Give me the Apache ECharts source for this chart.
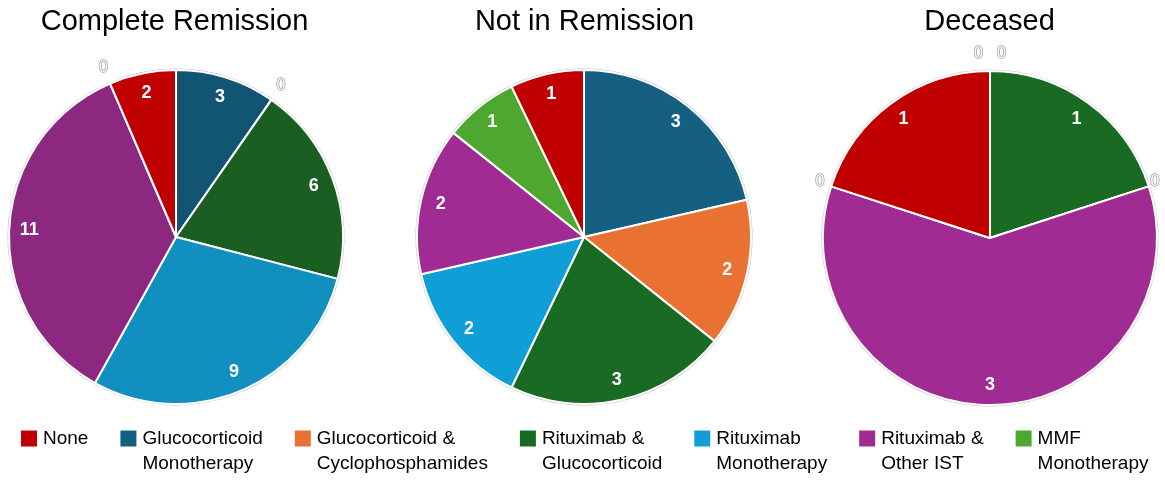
<!DOCTYPE html>
<html>
<head>
<meta charset="utf-8">
<script src="https://cdn.jsdelivr.net/npm/echarts@6/dist/echarts.min.js"></script>
<style>
  html, body { margin: 0; padding: 0; background: #fff; }
  #chart { width: 1165px; height: 481px; }
</style>
</head>
<body>
<div id="chart"></div>
<script>
// 分类（图例顺序）
const categories = [
  'None',
  'Glucocorticoid Monotherapy',
  'Glucocorticoid & Cyclophosphamides',
  'Rituximab & Glucocorticoid',
  'Rituximab Monotherapy',
  'Rituximab & Other IST',
  'MMF Monotherapy'
]
const titles = ['Complete Remission', 'Not in Remission', 'Deceased']
// 各组数值，顺序同 categories
const completeRemission = [2, 3, 0, 6, 9, 11, 0]
const notInRemission = [1, 3, 2, 3, 2, 2, 1]
const deceased = [1, 0, 0, 1, 0, 3, 0]
// 扇区顺时针顺序：None 放最后
const sliceOrder = [1, 2, 3, 4, 5, 6, 0]

const colors = ['#C00000', '#156082', '#E97132', '#196B24', '#0F9ED5', '#A02B93', '#4EA72E']
const colorsDark = ['#C00000', '#125474', '#D0652C', '#1A5E22', '#1190C0', '#8C2880', '#469528']

const FONT = "'Liberation Sans', Arial, sans-serif"
const R = 167
const OUT = 17 // 0 值标签离圆边的距离
const centers = [[176, 237], [584, 237], [990, 238]]
const titleX = [174.5, 584.5, 989.5]

// 数据项，0 值标签放外面：重叠的左右错开，超出圆宽度的往里收
const buildData = (values, palette) => {
  const total = values.reduce((a, b) => a + b, 0)
  let cum = 0
  const zeroGroups = {}
  sliceOrder.forEach((i) => {
    if (values[i] === 0) {
      zeroGroups[cum] = (zeroGroups[cum] || 0) + 1
    }
    cum += values[i]
  })
  cum = 0
  const seen = {}
  return sliceOrder.map((i) => {
    const v = values[i]
    const item = {
      name: categories[i],
      value: v,
      itemStyle: { color: palette[i] },
      label: { show: v === 0 }
    }
    if (v === 0) {
      const n = zeroGroups[cum]
      const k = seen[cum] || 0
      seen[cum] = k + 1
      const ang = (cum / total) * Math.PI * 2
      const nx = (R + OUT) * Math.sin(ang)
      const clamped = Math.max(-R - 3, Math.min(R - 2, nx))
      item.label.offset = [(k - (n - 1) / 2) * 23 + (clamped - nx), 0]
    }
    cum += v
    return item
  })
}

const groups = [
  { values: completeRemission, palette: colorsDark },
  { values: notInRemission, palette: colors },
  { values: deceased, palette: colors }
]

const mainSeries = groups.map((g, idx) => ({
  type: 'pie',
  name: titles[idx],
  center: centers[idx],
  radius: R,
  startAngle: 90,
  clockwise: true,
  avoidLabelOverlap: false,
  z: 2,
  itemStyle: { borderColor: '#fff', borderWidth: 2 },
  label: {
    position: 'outside',
    formatter: '{c}',
    distanceToLabelLine: -4.5,
    color: '#fff',
    textBorderColor: '#9a9a9a',
    textBorderWidth: 1.5,
    fontSize: 16,
    fontFamily: FONT
  },
  labelLine: { show: false, length: OUT, length2: 0 },
  emphasis: { scale: false },
  data: buildData(g.values, g.palette)
}))

// 外圈灰色描边
const outlineSeries = groups.map((g, idx) => ({
  type: 'pie',
  center: centers[idx],
  radius: R + 1.5,
  startAngle: 90,
  silent: true,
  z: 1,
  itemStyle: { color: '#c4c4c4' },
  label: { show: false },
  labelLine: { show: false },
  data: sliceOrder.map((i) => ({ name: categories[i], value: g.values[i] }))
}))

// 扇区内数值标签（靠外侧）
const labelSeries = groups.map((g, idx) => ({
  type: 'pie',
  center: centers[idx],
  radius: [R - 46, R],
  startAngle: 90,
  silent: true,
  z: 3,
  itemStyle: { color: 'rgba(0,0,0,0)' },
  label: {
    position: 'inside',
    formatter: '{c}',
    color: '#fff',
    fontSize: 18,
    fontWeight: 'bold',
    fontFamily: FONT
  },
  labelLine: { show: false },
  data: sliceOrder.map((i) => ({
    name: categories[i],
    value: g.values[i],
    label: { show: g.values[i] > 0 }
  }))
}))

// 图例两行，前面补一个空行，让第一行和色块对齐
const legendText = (name) => {
  if (!name.includes(' ')) return name
  const txt = name.includes(' & ') ? name.replace(' & ', ' &\n') : name.replace(' ', '\n')
  return '\n' + txt
}
const LH = 25

const option = {
  animation: false,
  backgroundColor: '#fff',
  title: titles.map((t, idx) => ({
    text: t,
    left: titleX[idx] - 5,
    top: 2,
    textAlign: 'center',
    textStyle: { fontSize: 29, fontWeight: 'normal', color: '#000', fontFamily: FONT }
  })),
  legend: {
    left: 19,
    top: 401,
    padding: 0,
    icon: 'rect',
    itemWidth: 18,
    itemHeight: 18,
    itemGap: 30,
    formatter: legendText,
    textStyle: { fontSize: 19, lineHeight: LH, color: '#000', fontFamily: FONT },
    data: categories
  },
  series: [mainSeries[1], mainSeries[0], mainSeries[2], ...outlineSeries, ...labelSeries]
}

const chart = echarts.init(document.getElementById('chart'))
chart.setOption(option)
</script>
</body>
</html>
